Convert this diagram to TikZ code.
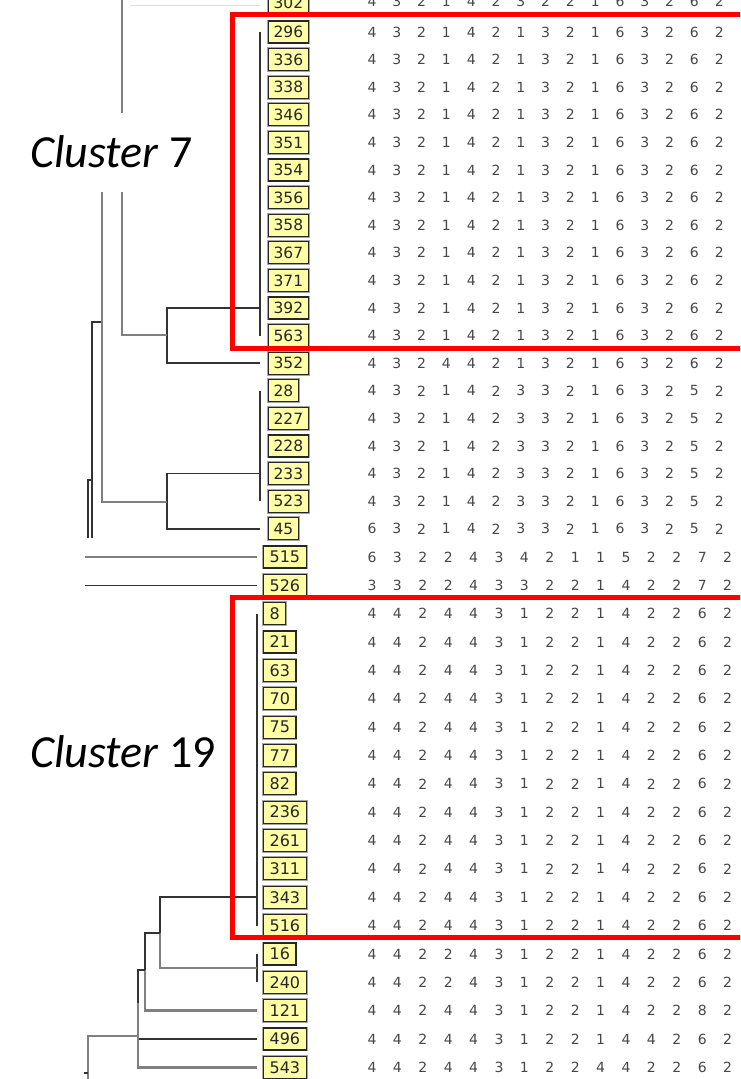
\documentclass[tikz,border=0pt]{standalone}
\usepackage{fontspec}
\newfontfamily\dejavu{DejaVu Sans}
\newfontfamily\calib{Carlito}
\usetikzlibrary{positioning}

\definecolor{lblfill}{RGB}{255,255,165}

% character patterns of the rows
\def\vT{4,3,2,1,4,2,3,2,2,1,6,3,2,6,2}
\def\vA{4,3,2,1,4,2,1,3,2,1,6,3,2,6,2}
\def\vB{4,3,2,4,4,2,1,3,2,1,6,3,2,6,2}
\def\vC{4,3,2,1,4,2,3,3,2,1,6,3,2,5,2}
\def\vD{6,3,2,1,4,2,3,3,2,1,6,3,2,5,2}
\def\vE{6,3,2,2,4,3,4,2,1,1,5,2,2,7,2}
\def\vF{3,3,2,2,4,3,3,2,2,1,4,2,2,7,2}
\def\vG{4,4,2,4,4,3,1,2,2,1,4,2,2,6,2}
\def\vH{4,4,2,2,4,3,1,2,2,1,4,2,2,6,2}
\def\vI{4,4,2,4,4,3,1,2,2,1,4,2,2,8,2}
\def\vJ{4,4,2,4,4,3,1,2,2,1,4,4,2,6,2}
\def\vK{4,4,2,4,4,3,1,2,2,4,4,2,2,6,2}

\tikzset{
  lbl/.style={draw=black!85, line width=1.2pt, fill=lblfill, text=black!85,
    preaction={draw=black!35, line width=2.8pt},
    inner xsep=5.5pt, inner ysep=0pt, minimum height=22pt, anchor=west},
  lblup/.style={lbl, font=\dejavu\fontsize{15.5}{15.5}\selectfont},
  lbllo/.style={lbl, font=\dejavu\fontsize{16}{16}\selectfont, inner xsep=6pt},
  dig/.style={font=\dejavu\fontsize{14}{14}\selectfont, text=black!72, inner sep=0pt},
  blk/.style={draw=black!80, line width=1.5pt},
  gry/.style={draw=black!50, line width=2.6pt},
  brk/.style={draw=black!80, line width=1.2pt},
  clabel/.style={font=\calib\fontsize{46}{46}\selectfont, anchor=base west, fill=white,
    inner sep=0pt, text height=54pt, text depth=25pt},
  redbox/.style={draw=red, line width=5pt}
}

\begin{document}
\begin{tikzpicture}[x=1pt,y=-1pt]
  \useasboundingbox (0,0) rectangle (740,1079);
  \clip (0,0) rectangle (740,1079);

  % row cut at the top edge
  \node[lblup] (l302) at (267.5,3) {302};
  \foreach \v [count=\j from 0] in \vT
    \node[dig] (v302-\j) at (372+24.8*\j,1) {\v};

  % upper rows
  \foreach \lab/\pat [count=\i from 0] in {296/\vA,336/\vA,338/\vA,346/\vA,351/\vA,
      354/\vA,356/\vA,358/\vA,367/\vA,371/\vA,392/\vA,563/\vA,352/\vB,
      28/\vC,227/\vC,228/\vC,233/\vC,523/\vC,45/\vD} {
    \node[lblup] (l\lab) at (267.5,32+27.6*\i) {\lab};
    \edef\vals{\pat}
    \foreach \v [count=\j from 0] in \vals
      \node[dig] (v\lab-\j) at (372+24.8*\j,32+27.6*\i) {\v};
  }

  % lower rows
  \foreach \lab/\pat [count=\k from 0] in {515/\vE,526/\vF,8/\vG,21/\vG,63/\vG,70/\vG,75/\vG,
      77/\vG,82/\vG,236/\vG,261/\vG,311/\vG,343/\vG,516/\vG,
      16/\vH,240/\vH,121/\vI,496/\vJ,543/\vK} {
    \node[lbllo] (l\lab) at (263,557+28.35*\k) {\lab};
    \edef\vals{\pat}
    \foreach \v [count=\j from 0] in \vals
      \node[dig] (v\lab-\j) at (372+25.4*\j,557+28.35*\k) {\v};
  }

  % tree, upper part
  \coordinate (b7) at (260,0);
  \coordinate (j1) at (167,335);
  \coordinate (j2) at (167,502);
  \coordinate (j3) at (101,322);
  \coordinate (j4) at (92,480);
  \coordinate (top1) at (122,-5);
  \coordinate (top2) at (102,150);
  \coordinate (cut1) at (92,538);
  \coordinate (cut2) at (88,538);
  \draw[black!12, line width=0.8pt] (130,5) -- (260,5);
  \draw[brk] (b7 |- l296) -- (b7 |- l563);
  \draw[brk] (b7 |- l28) -- (b7 |- l523);
  \draw[blk] (b7 |- l392) -| (j1) |- (b7 |- l352);
  \draw[gry] (j1) -| (top1);
  \draw[blk] (b7 |- l233) -| (j2) |- (b7 |- l45);
  \draw[gry] (j2) -| (top2);
  \draw[blk] (j3) -| (cut1);
  \draw[blk] (j4) -| (cut2);

  % tree, lower part
  \coordinate (b19) at (257,0);
  \coordinate (edge) at (85,0);
  \coordinate (b16) at (257,968);
  \coordinate (j5) at (160,933);
  \coordinate (j6) at (145,970);
  \coordinate (j7) at (138,1003);
  \coordinate (j8) at (138,1036);
  \coordinate (bot) at (88,1085);
  \coordinate (tk) at (84,1073);
  \draw[gry] (edge |- l515) -- (b19 |- l515);
  \draw[blk] (edge |- l526) -- (b19 |- l526);
  \draw[brk] (b19 |- l8) -- (b19 |- l516);
  \draw[brk] (b19 |- l16) -- (b19 |- l240);
  \draw[blk] (b19 |- l343) -| (j5);
  \draw[gry] (j5) |- (b16);
  \draw[blk] (j5) -| (j6);
  \draw[gry] (j6) |- (b19 |- l121);
  \draw[blk] (j6) -| (j7) |- (b19 |- l496);
  \draw[gry] (j7) |- (b19 |- l543);
  \draw[gry] (j8) -| (bot);
  \draw[blk] (tk) -- ++(4,0);

  % cluster names
  \node[clabel] (c7) at (30,167) {\textit{Cluster} 7};
  \node[clabel] (c19) at (30,767) {\textit{Cluster} 19};

  \draw[redbox] (232,14.5) rectangle (760,348);
  \draw[redbox] (232,597) rectangle (760,937);
\end{tikzpicture}
\end{document}
